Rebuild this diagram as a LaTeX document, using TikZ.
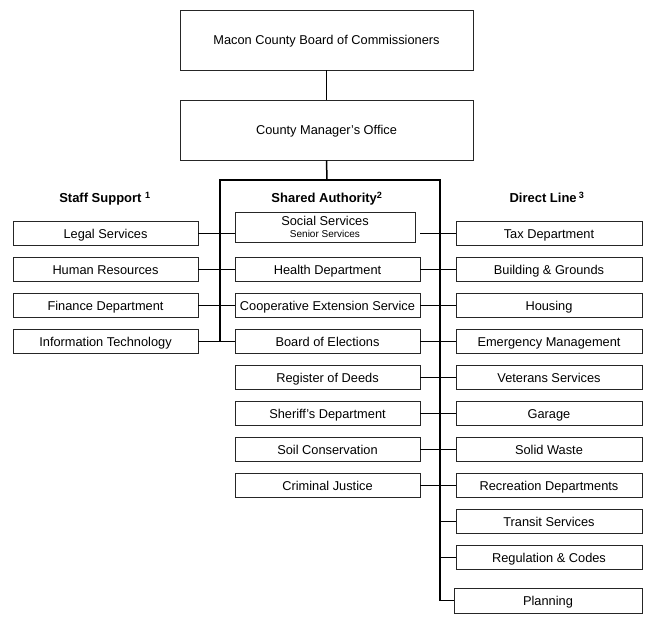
\documentclass[tikz,border=0pt]{standalone}
\usepackage{fontspec}
\setmainfont{Liberation Sans}
\begin{document}
\begin{tikzpicture}[x=1pt,y=-1pt,
  box/.style={draw=black!85, line width=0.9pt, fill=white, inner sep=0pt, align=center, font=\fontsize{12.8}{15}\selectfont},
  one/.style={text height=9.6pt, text depth=0.2pt},
  lbox/.style={box, one, minimum width=185pt, minimum height=24pt},
  rbox/.style={box, one, minimum width=186pt, minimum height=24pt},
  topbox/.style={box, one, minimum width=293pt, minimum height=60pt},
  conn/.style={line width=1.5pt, draw=black},
  bus/.style={line width=2.2pt, draw=black},
  hdr/.style={one, inner sep=0pt, font=\bfseries\fontsize{13}{15}\selectfont}]
\useasboundingbox (0,0) rectangle (654,627);

% top
\node[topbox] (board) at (326.5,40) {Macon County Board of Commissioners};
\node[topbox] (mgr) at (326.5,130) {County Manager's Office};
\coordinate (bustop) at (327,180);
\coordinate (busl) at (220,180);
\coordinate (busr) at (440,180);
\coordinate (busle) at (220,341.5);
\coordinate (busre) at (440,600.5);

% headers
\node[hdr] (h1) at (105,198) {Staff Support \textsuperscript{1}};
\node[hdr] (h2) at (327,198) {Shared Authority\textsuperscript{2}};
\node[hdr] (h3) at (547,198) {Direct Line\,\textsuperscript{3}};

% left column
\node[lbox] (l1) at (105.5,233.5) {Legal Services};
\node[lbox] (l2) at (105.5,269.5) {Human Resources};
\node[lbox] (l3) at (105.5,305.5) {Finance Department};
\node[lbox] (l4) at (105.5,341.5) {Information Technology};

% shared column
\node[box, minimum width=180pt, minimum height=30pt] (s1) at (325,227) {Social Services\\[-3.5pt]{\fontsize{10}{11}\selectfont Senior Services}};
\node[lbox] (s2) at (327.5,269.5) {Health Department};
\node[lbox] (s3) at (327.5,305.5) {Cooperative Extension Service};
\node[lbox] (s4) at (327.5,341.5) {Board of Elections};
\node[lbox] (s5) at (327.5,377.5) {Register of Deeds};
\node[lbox] (s6) at (327.5,413.5) {Sheriff's Department};
\node[lbox] (s7) at (327.5,449.5) {Soil Conservation};
\node[lbox] (s8) at (327.5,485.5) {Criminal Justice};

% right column
\node[rbox] (r1) at (549,233.5) {Tax Department};
\node[rbox] (r2) at (549,269.5) {Building \& Grounds};
\node[rbox] (r3) at (549,305.5) {Housing};
\node[rbox] (r4) at (549,341.5) {Emergency Management};
\node[rbox] (r5) at (549,377.5) {Veterans Services};
\node[rbox] (r6) at (549,413.5) {Garage};
\node[rbox] (r7) at (549,449.5) {Solid Waste};
\node[rbox] (r8) at (549,485.5) {Recreation Departments};
\node[rbox] (r9) at (549,521.5) {Transit Services};
\node[rbox] (r10) at (549,557.5) {Regulation \& Codes};
\node[box, one, minimum width=188pt, minimum height=25pt] (r11) at (548,600.5) {Planning};

% connectors
\draw[conn] (board) -- (mgr);
\draw[conn] (mgr.south) -- (bustop);
\draw[bus] (busle) -- (busl) -- (busr) -- (busre);

\draw[conn] (l1.east) -- (s1.west |- l1.east);
\coordinate (s1r) at (420,233.5);
\draw[conn] (s1r) -- (r1.west);
\foreach \i in {2,3,4}{
  \draw[conn] (l\i.east) -- (s\i.west);
}
\foreach \i in {2,...,8}{
  \draw[conn] (s\i.east) -- (r\i.west);
}
\coordinate (b9) at (440,521.5);
\coordinate (b10) at (440,557.5);
\draw[conn] (b9) -- (r9.west);
\draw[conn] (b10) -- (r10.west);
\draw[conn] (busre) -- (r11.west);
\end{tikzpicture}
\end{document}
